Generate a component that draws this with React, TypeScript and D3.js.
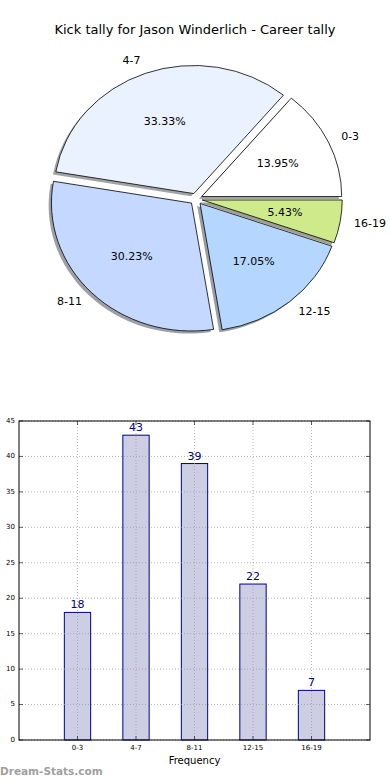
import React from "react";
import * as d3 from "d3";

const categories = ["0-3", "4-7", "8-11", "12-15", "16-19"];
const values = [18, 43, 39, 22, 7];
const pieColors = ["#ffffff", "#eaf1ff", "#c5d8ff", "#b5d6ff", "#cfea8a"];
const yTicks = [0, 5, 10, 15, 20, 25, 30, 35, 40, 45];
const title = "Kick tally for Jason Winderlich - Career tally";

const W = 390;
const H = 780;
const FONT = "'DejaVu Sans', sans-serif";

export default function App() {
  // ---- Pie ----
  const cx = 196, cy = 199, rx = 140, ry = 128;
  const explode = 0.045;
  const total = d3.sum(values);
  const pie = d3
    .pie<number>()
    .sort(null)
    .startAngle(Math.PI / 2)
    .endAngle(Math.PI / 2 - 2 * Math.PI)(values);
  const arc = d3.arc<any>().innerRadius(0).outerRadius(1);

  const toPx = (ux: number, uy: number) => [cx + ux * rx, cy + uy * ry];

  const wedges = pie.map((p, i) => {
    const mid = (p.startAngle + p.endAngle) / 2;
    const dx = Math.sin(mid);
    const dy = -Math.cos(mid);
    const ox = dx * explode * rx;
    const oy = dy * explode * ry;
    return { p, i, mid, dx, dy, ox, oy };
  });

  const darker = (c: string) => {
    const col = d3.rgb(c);
    return d3.rgb(col.r * 0.3, col.g * 0.3, col.b * 0.3).toString();
  };

  // ---- Bars ----
  const left = 19, right = 370, top = 421, bottom = 740;
  const x = d3.scaleLinear().domain([-1, 5]).range([left, right]);
  const y = d3.scaleLinear().domain([0, 45]).range([bottom, top]);
  const barW = 0.45;

  return (
    <svg
      width={W}
      height={H}
      style={{ position: "absolute", left: 0, top: 0, background: "#fff" }}
      fontFamily={FONT}
    >
      <rect x={0} y={0} width={W} height={H} fill="#fff" />
      <text x={195} y={30} textAnchor="middle" dominantBaseline="middle" fontSize={13} fill="#000">
        {title}
      </text>

      {/* shadows */}
      {wedges.map((w) => (
        <path
          key={"s" + w.i}
          d={arc(w.p) as string}
          transform={`translate(${cx + w.ox - 0.02 * rx},${cy + w.oy + 0.02 * ry}) scale(${rx},${ry})`}
          fill={darker(pieColors[w.i])}
          fillOpacity={0.5}
        />
      ))}
      {/* wedges */}
      {wedges.map((w) => (
        <path
          key={"w" + w.i}
          d={arc(w.p) as string}
          transform={`translate(${cx + w.ox},${cy + w.oy}) scale(${rx},${ry})`}
          fill={pieColors[w.i]}
          stroke="#000"
          strokeWidth={0.8}
          vectorEffect="non-scaling-stroke"
          strokeLinejoin="round"
        />
      ))}
      {/* labels */}
      {wedges.map((w) => {
        const [lx, ly] = toPx(w.dx * (1.1 + explode), w.dy * (1.1 + explode));
        const [px, py] = toPx(w.dx * (0.6 + explode), w.dy * (0.6 + explode));
        const pct = ((values[w.i] / total) * 100).toFixed(2) + "%";
        return (
          <g key={"l" + w.i}>
            <text
              x={lx}
              y={ly}
              textAnchor={w.dx > 0 ? "start" : "end"}
              dominantBaseline="middle"
              fontSize={11}
            >
              {categories[w.i]}
            </text>
            <text x={px} y={py} textAnchor="middle" dominantBaseline="middle" fontSize={11}>
              {pct}
            </text>
          </g>
        );
      })}

      {/* bars */}
      {values.map((v, i) => (
        <rect
          key={"b" + i}
          x={x(i - barW / 2)}
          y={y(v)}
          width={x(barW) - x(0)}
          height={y(0) - y(v)}
          fill="#cdcde4"
          stroke="#00008b"
          strokeWidth={1}
        />
      ))}
      {/* grid */}
      {categories.map((c, i) => (
        <line
          key={"gx" + c}
          x1={x(i)}
          x2={x(i)}
          y1={top}
          y2={bottom}
          stroke="#999"
          strokeWidth={0.7}
          strokeDasharray="1,2"
        />
      ))}
      {yTicks.map((t) => (
        <line
          key={"gy" + t}
          x1={left}
          x2={right}
          y1={y(t)}
          y2={y(t)}
          stroke="#999"
          strokeWidth={0.7}
          strokeDasharray="1,2"
        />
      ))}
      {values.map((v, i) => (
        <text
          key={"v" + i}
          x={x(i)}
          y={y(v) - 4}
          textAnchor="middle"
          fontSize={11}
          fill="#000080"
        >
          {v}
        </text>
      ))}
      {/* frame */}
      <rect x={left} y={top} width={right - left} height={bottom - top} fill="none" stroke="#000" strokeWidth={1} />
      {/* ticks */}
      {yTicks.map((t) => (
        <g key={"ty" + t}>
          <line x1={left} x2={left + 4} y1={y(t)} y2={y(t)} stroke="#000" strokeWidth={0.6} />
          <line x1={right} x2={right - 4} y1={y(t)} y2={y(t)} stroke="#000" strokeWidth={0.6} />
          <text x={left - 4} y={y(t)} textAnchor="end" dominantBaseline="middle" fontSize={7}>
            {t}
          </text>
        </g>
      ))}
      {categories.map((c, i) => (
        <g key={"tx" + c}>
          <line x1={x(i)} x2={x(i)} y1={bottom} y2={bottom - 4} stroke="#000" strokeWidth={0.6} />
          <line x1={x(i)} x2={x(i)} y1={top} y2={top + 4} stroke="#000" strokeWidth={0.6} />
          <text x={x(i)} y={bottom + 8} textAnchor="middle" dominantBaseline="middle" fontSize={7}>
            {c}
          </text>
        </g>
      ))}
      <text x={(left + right) / 2} y={761} textAnchor="middle" dominantBaseline="middle" fontSize={10}>
        Frequency
      </text>
      <text x={0} y={775} fontSize={10.5} fontWeight="bold" fill="#a0a0a0">
        Dream-Stats.com
      </text>
    </svg>
  );
}
